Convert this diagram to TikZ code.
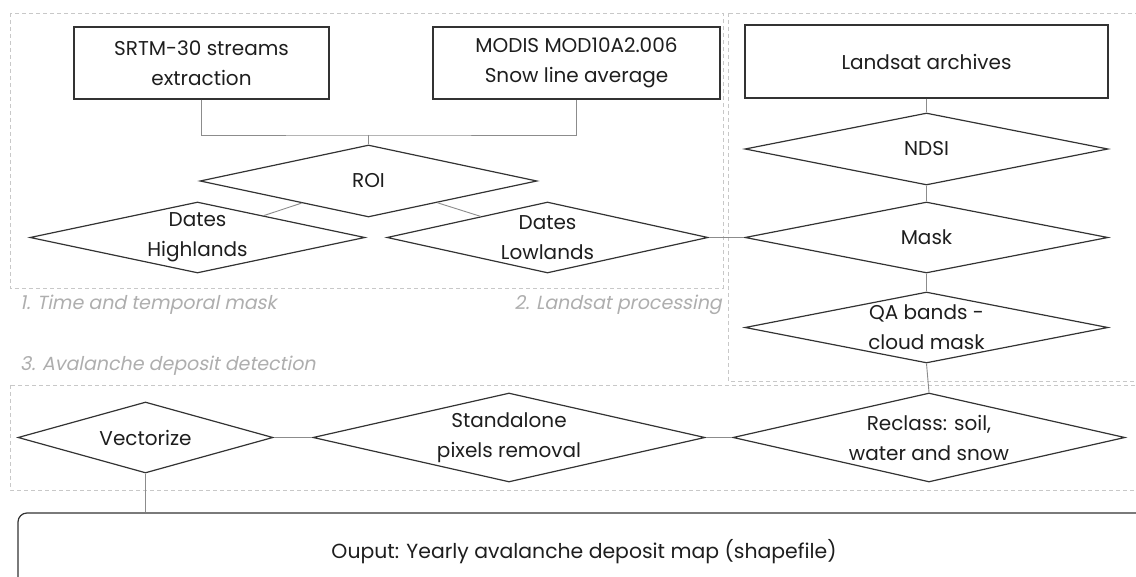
\documentclass[tikz,border=0pt]{standalone}
\usepackage{fontspec}
\setmainfont{Poppins}
\newfontfamily\labfont[FakeSlant=0.2]{Poppins}
\usetikzlibrary{shapes.geometric}
\definecolor{nodeline}{HTML}{333333}
\definecolor{conncol}{HTML}{8C8C8C}
\definecolor{dashcol}{HTML}{C8C8C8}
\definecolor{labcol}{HTML}{AEAEAE}
\definecolor{txtcol}{HTML}{1E1E1E}
\tikzset{
  txt/.style={text=txtcol, align=center, inner sep=0pt, font=\fontsize{20}{30}\selectfont},
  boxnode/.style={draw=nodeline, line width=1.2pt, rectangle, inner sep=0pt, txt},
  dia/.style={draw=nodeline, line width=1.2pt, diamond, inner sep=0pt},
  conn/.style={draw=conncol, line width=0.9pt},
  area/.style={draw=dashcol, line width=0.8pt, dash pattern=on 4pt off 3pt},
  sectlabel/.style={text=labcol, anchor=west, inner sep=0pt, font=\labfont\fontsize{19}{22}\selectfont},
}
\begin{document}
\begin{tikzpicture}[x=1pt,y=-1pt]
\useasboundingbox (0,0) rectangle (1136,577);
\clip (0,0) rectangle (1136,577);
\fill[white] (0,0) rectangle (1136,577);

% dashed areas
\draw[area] (10,13) rectangle (723,288);
\draw[area] (728,13) rectangle (1150,381);
\draw[area] (10,385) rectangle (1150,490);

% section labels
\node[sectlabel] (l1) at (20,305) {1. Time and temporal mask};
\node[sectlabel, anchor=east] (l2) at (722,305) {2. Landsat processing};
\node[sectlabel] (l3) at (20,366) {3. Avalanche deposit detection};

% rectangles
\node[boxnode, minimum width=255pt, minimum height=72pt] (srtm) at (201.5,63) {SRTM-30 streams\\extraction};
\node[boxnode, minimum width=287pt, minimum height=72pt] (modis) at (576.5,63) {MODIS MOD10A2.006\\Snow line average};
\node[boxnode, minimum width=363pt, minimum height=73pt] (land) at (926.5,61.5) {Landsat archives};

% diamonds
\node[dia, minimum width=337pt, minimum height=72pt, label={[txt,name=roit]center:ROI}] (roi) at (368.5,181) {};
\node[dia, minimum width=335pt, minimum height=71pt, label={[txt,name=dht]center:Dates\\Highlands}] (dh) at (197.5,237.5) {};
\node[dia, minimum width=321pt, minimum height=71pt, label={[txt,name=dlt]center:Dates\\Lowlands}] (dl) at (547.5,237.5) {};
\node[dia, minimum width=363pt, minimum height=72pt, label={[txt,name=ndsit]center:NDSI}] (ndsi) at (926.5,149) {};
\node[dia, minimum width=363pt, minimum height=71pt, label={[txt,name=maskt]center:Mask}] (mask) at (926.5,237.5) {};
\node[dia, minimum width=363pt, minimum height=71pt, label={[txt,name=qat]center:QA bands -\\cloud mask}] (qa) at (926.5,327.5) {};
\node[dia, minimum width=392pt, minimum height=89pt, label={[txt,name=rect]center:Reclass: soil,\\water and snow}] (recl) at (929,437.5) {};
\node[dia, minimum width=392pt, minimum height=89pt, label={[txt,name=stt]center:Standalone\\pixels removal}] (stand) at (509,437.5) {};
\node[dia, minimum width=255pt, minimum height=71pt, label={[txt,name=vect]center:Vectorize}] (vec) at (145.5,437.5) {};

% output
\node[draw=nodeline, line width=1.2pt, rounded corners=9pt, rectangle, minimum width=1132pt, minimum height=77pt, txt, font=\fontsize{20.4}{30}\selectfont] (out) at (584,551.5) {Ouput: Yearly avalanche deposit map (shapefile)};

% connectors
\coordinate (jn) at (368.5,135);
\draw[conn] (srtm.south) |- (jn) -| (modis.south);
\draw[conn] (jn) -- (roi.north);
\draw[conn] (roi) -- (dh);
\draw[conn] (roi) -- (dl);
\draw[conn] (dl.east) -- (mask.west);
\draw[conn] (land.south) -- (ndsi.north);
\draw[conn] (ndsi.south) -- (mask.north);
\draw[conn] (mask.south) -- (qa.north);
\draw[conn] (qa.south) -- (recl.north);
\draw[conn] (recl.west) -- (stand.east);
\draw[conn] (stand.west) -- (vec.east);
\draw[conn] (vec.south) -- (vec.south |- out.north);
\end{tikzpicture}
\end{document}
